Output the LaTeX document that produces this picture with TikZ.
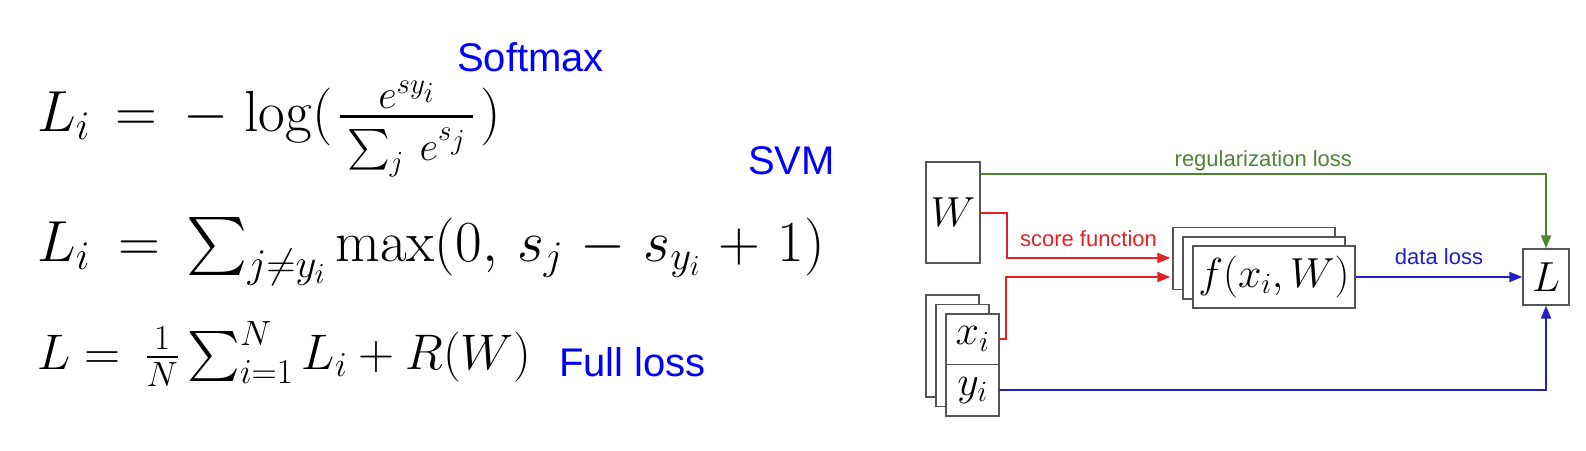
\RequirePackage{fix-cm}
\documentclass[tikz,border=0pt]{standalone}
\usepackage{amsmath,amssymb}
\usepackage{fontspec}
\setsansfont{Liberation Sans}
\usepackage{tikz}
\usetikzlibrary{arrows.meta,positioning}
\definecolor{reggreen}{RGB}{78,132,52}
\definecolor{scorered}{RGB}{228,32,36}
\definecolor{lossblue}{RGB}{32,32,196}
\definecolor{boxgray}{RGB}{85,85,85}

\begin{document}
\begin{tikzpicture}[x=1pt,y=-1pt,>={Triangle[length=13pt,width=10pt]},
 box/.style={draw=boxgray,line width=1.3pt,fill=white,inner sep=0pt,font=\fontsize{42}{46}\selectfont},
 cell/.style={inner sep=0pt,minimum width=53pt,minimum height=51pt,font=\fontsize{42}{46}\selectfont},
 eqn/.style={anchor=base west,inner sep=0pt},
 tag/.style={anchor=base west,inner sep=0pt,text=blue,font=\sffamily\fontsize{40}{44}\selectfont},
 lbl/.style={inner sep=2pt,font=\sffamily\fontsize{22}{24}\selectfont},
 link/.style={line width=2pt}]
\useasboundingbox (0,0) rectangle (1586,450);

% the three losses
\node[eqn,font=\fontsize{58}{60}\selectfont] (soft) at (37,131)
 {$L_i\mkern3mu=\mkern3mu-\mkern2mu\log(\mkern2mu\frac{e^{sy_i}}
  {\raisebox{-9pt}{$\scriptstyle\mkern3mu\sum_j\mkern4mu e^{s_j}\mkern3mu$}}\mkern2mu)$};
\node[tag] (softtag) at (457,71) {Softmax};
\node[eqn,font=\fontsize{58}{60}\selectfont] (svm) at (37,261)
 {$L_i\mkern4mu=\mkern3mu\sum_{j\neq y_i}\max(0,\,s_j\mkern1.5mu-\mkern1.5mu s_{y_i}\mkern1.5mu+\mkern1.5mu1)$};
\node[tag] (svmtag) at (748,174) {SVM};
\node[eqn,font=\fontsize{50}{54}\selectfont] (full) at (37,369)
 {$L=\mkern4mu\frac{1}{N}\sum_{i=1}^{N}L_i+R(W)$};
\node[tag] (fulltag) at (559,376) {Full loss};

% computational graph
\node[box,minimum width=54pt,minimum height=101pt] (W) at (953,212.5) {$W$};

\coordinate (xyc) at (972.5,365);
\node[box,minimum width=53pt,minimum height=102pt] (xyback) at ([shift={(-20,-19)}]xyc) {};
\node[box,minimum width=53pt,minimum height=102pt] (xymid) at ([shift={(-10,-9.5)}]xyc) {};
\node[box,minimum width=53pt,minimum height=102pt] (xy) at (xyc) {};
\node[cell,anchor=north] (xi) at (xy.north) {$x_i$};
\node[cell,below=0pt of xi] (yi) {$y_i$};
\draw[draw=boxgray,line width=1.3pt] (xi.south west) -- (xi.south east);

\coordinate (fc) at (1274,277);
\node[box,minimum width=162pt,minimum height=62pt] (fback) at ([shift={(-20,-18.5)}]fc) {};
\node[box,minimum width=162pt,minimum height=62pt] (fmid) at ([shift={(-10,-9)}]fc) {};
\node[box,minimum width=162pt,minimum height=62pt] (f) at (fc) {$f(x_i,W)$};

\node[box,minimum width=46pt,minimum height=56pt] (L) at (1546,277) {$L$};

\draw[->,link,reggreen] ([yshift=-13pt]W.north east) -| node[pos=0.25,lbl,above=0pt]{regularization loss} (L.north);
\draw[->,link,scorered] (W.east) -- ++(26,0) |- ([xshift=-22pt,yshift=19pt]f.west) node[pos=0.75,lbl,above=8pt]{score function};
\draw[->,link,scorered] (xi.east) -- ++(7,0) |- ([xshift=-22pt]f.west);
\draw[->,link,lossblue] (f) -- node[lbl,above=9pt]{data loss} (L);
\draw[->,link,lossblue] (yi.east) -| (L.south);
\end{tikzpicture}
\end{document}
